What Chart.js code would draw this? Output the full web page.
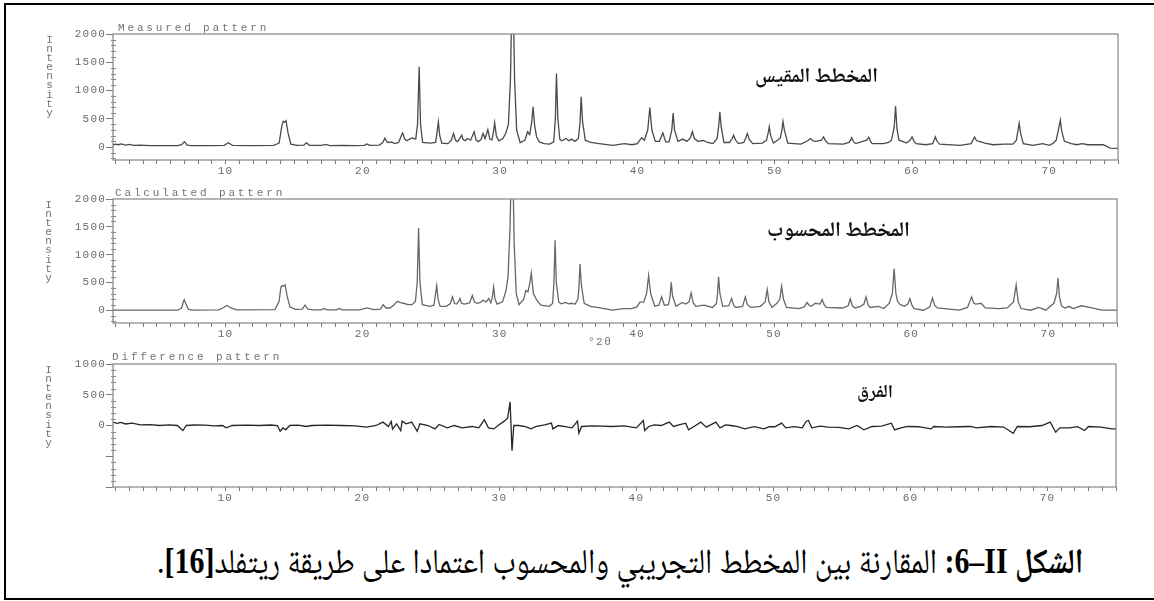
<!DOCTYPE html>
<html lang="ar">
<head>
<meta charset="utf-8">
<title>Rietveld comparison</title>
<script src="https://cdn.jsdelivr.net/npm/chart.js@4.4.1/dist/chart.umd.min.js"></script>
<style>
  html, body { margin: 0; padding: 0; background: #fff; }
  body { width: 1154px; height: 601px; position: relative; overflow: hidden; }
  .frame { position: absolute; left: 4px; top: 3px; width: 1200px; height: 593px;
           border-left: 2px solid #000; border-top: 2px solid #000; border-bottom: 2px solid #000; }
  canvas.panel { position: absolute; left: 0; }
  .ptitle { position: absolute; font-family: "Liberation Mono", "DejaVu Sans Mono", monospace;
            font-size: 11px; line-height: 11px; letter-spacing: 2.85px; color: #737373; white-space: nowrap; }
  .ylab { position: absolute; width: 9px; font-family: "Liberation Mono", "DejaVu Sans Mono", monospace;
          font-size: 11px; line-height: 9.1px; word-break: break-all; color: #737373; text-align: center; }
  .xunit { position: absolute; font-family: "Liberation Mono", "DejaVu Sans Mono", monospace;
           font-size: 11px; line-height: 11px; letter-spacing: 1.5px; color: #737373; white-space: nowrap; }
  .tag { position: absolute; font-family: "Noto Naskh Arabic", "Noto Sans Arabic", "DejaVu Sans", sans-serif; font-weight: bold;
         font-size: 15px; line-height: 1; color: #111; white-space: nowrap; direction: rtl; }
  .caption { position: absolute; font-family: "Liberation Serif", "Noto Naskh Arabic", "DejaVu Serif", serif; font-size: 35px;
             line-height: 1.2; color: #000; white-space: nowrap; direction: rtl; transform-origin: 100% 50%; }
</style>
</head>
<body>
<div class="frame"></div>

<canvas id="measured" class="panel"></canvas>
<canvas id="calculated" class="panel"></canvas>
<canvas id="difference" class="panel"></canvas>

<div class="ptitle" style="left:118px; top:23px;">Measured pattern</div>
<div class="ptitle" style="left:115px; top:188px;">Calculated pattern</div>
<div class="ptitle" style="left:112px; top:352px;">Difference pattern</div>

<div class="ylab" style="left:45px; top:36px;">Intensity</div>
<div class="ylab" style="left:44px; top:201px;">Intensity</div>
<div class="ylab" style="left:44px; top:366px;">Intensity</div>

<div class="xunit" style="left:588px; top:337px;">°2θ</div>

<div class="tag" id="tag1">المخطط المقيس</div>
<div class="tag" id="tag2">المخطط المحسوب</div>
<div class="tag" id="tag3">الفرق</div>

<div class="caption" id="caption"><b>الشكل <bdo dir="rtl">II–6</bdo>:</b> المقارنة بين المخطط التجريبي والمحسوب اعتمادا على طريقة ريتفلد<b>[16]</b>.</div>

<script>
// ---- measured XRD pattern (2θ in degrees, intensity in counts) ----
const measuredAngle = [
  1.8, 2.0, 2.2, 2.4, 2.7, 3.0, 3.3, 3.8, 4.5, 5.5, 6.5, 6.8, 7.0, 7.2, 7.5, 9.0, 9.9, 10.2, 10.5,
  12.0, 13.5, 13.9, 14.1, 14.2, 14.3, 14.4, 14.55, 14.75, 15.2, 15.7, 15.9, 16.1, 17.0, 17.3, 17.6,
  18.5, 19.5, 20.1, 20.3, 20.5, 21.2, 21.45, 21.6, 21.75, 21.9, 22.1, 22.3, 22.6, 22.8, 22.9, 23.05,
  23.2, 23.4, 23.6, 23.85, 23.98, 24.1, 24.2, 24.35, 24.9, 25.3, 25.42, 25.5, 25.6, 25.75, 26.2,
  26.45, 26.6, 26.75, 26.9, 27.05, 27.2, 27.3, 27.45, 27.6, 27.85, 28.1, 28.25, 28.4, 28.6, 28.75,
  28.9, 29.1, 29.25, 29.4, 29.5, 29.6, 29.72, 29.9, 30.2, 30.4, 30.6, 30.75, 30.9, 31.05, 31.2,
  31.45, 31.8, 32.0, 32.15, 32.3, 32.4, 32.5, 32.65, 32.85, 33.2, 33.6, 33.9, 34.02, 34.1, 34.2,
  34.35, 34.5, 34.8, 35.0, 35.2, 35.45, 35.7, 35.82, 35.9, 36.0, 36.2, 36.6, 37.2, 38.2, 39.05,
  39.6, 40.0, 40.3, 40.5, 40.75, 40.9, 41.05, 41.3, 41.6, 41.85, 42.05, 42.3, 42.5, 42.6, 42.7,
  42.95, 43.3, 43.6, 43.85, 44.0, 44.15, 44.4, 44.8, 45.1, 45.5, 45.8, 45.93, 46.0, 46.1, 46.3,
  46.7, 46.9, 47.0, 47.15, 47.35, 47.75, 47.9, 48.0, 48.15, 48.4, 49.1, 49.4, 49.52, 49.6, 49.7,
  49.9, 50.2, 50.4, 50.52, 50.6, 50.7, 50.95, 51.9, 52.4, 52.6, 52.8, 53.0, 53.4, 53.55, 53.7,
  53.9, 55.0, 55.4, 55.55, 55.6, 55.75, 55.9, 56.4, 56.7, 56.85, 57.0, 57.1, 57.9, 58.3, 58.5,
  58.7, 58.8, 58.9, 59.05, 59.3, 59.6, 59.85, 60.0, 60.15, 60.3, 61.0, 61.5, 61.62, 61.7, 61.8,
  62.0, 63.5, 64.3, 64.45, 64.55, 64.7, 64.9, 65.3, 65.9, 66.7, 67.35, 67.6, 67.72, 67.8, 67.9,
  68.1, 68.8, 69.5, 70.0, 70.3, 70.5, 70.68, 70.8, 70.9, 71.1, 71.6, 72.0, 72.4, 72.8, 73.2,
  73.9, 74.2, 74.4, 75.0
];
const measuredCounts = [
  35, 50, 40, 55, 35, 45, 30, 35, 25, 25, 25, 40, 95, 35, 25, 25, 30, 75, 30,
  25, 30, 70, 380, 455, 440, 465, 250, 50, 30, 35, 75, 30, 30, 45, 25,
  30, 25, 30, 55, 30, 35, 80, 155, 90, 80, 90, 60, 80, 200, 250, 140,
  110, 140, 160, 140, 400, 1420, 400, 80, 70, 80, 300, 445, 200, 70, 60,
  120, 240, 120, 95, 150, 210, 130, 110, 150, 120, 270, 120, 95, 130, 240,
  150, 310, 140, 125, 250, 430, 200, 110, 150, 240, 400, 1200, 3300, 1200, 300,
  80, 120, 270, 220, 450, 710, 400, 180, 90, 60, 50, 90, 500, 1300, 500,
  130, 110, 150, 110, 140, 100, 150, 450, 890, 450, 120, 80, 60, 30, 60,
  40, 60, 165, 120, 300, 700, 300, 100, 100, 250, 90, 90, 300, 600, 300,
  100, 140, 100, 160, 270, 150, 100, 115, 80, 60, 150, 400, 625, 350, 80,
  80, 150, 210, 120, 60, 80, 170, 240, 130, 60, 70, 120, 250, 360, 200,
  70, 120, 160, 300, 450, 300, 70, 50, 110, 150, 110, 100, 120, 180, 110,
  60, 50, 80, 130, 165, 90, 60, 100, 120, 170, 90, 60, 60, 80, 120,
  350, 725, 320, 120, 100, 70, 120, 180, 100, 60, 40, 60, 130, 180, 110,
  50, 30, 60, 130, 180, 110, 100, 70, 40, 50, 50, 120, 300, 420, 250,
  60, 30, 60, 30, 70, 120, 330, 475, 280, 100, 60, 40, 60, 40, 40,
  40, 10, -20, -25
];

// ---- calculated (Rietveld model) pattern ----
const calculatedAngle = [
  1.8, 6.5, 6.8, 6.95, 7.0, 7.1, 7.3, 7.6, 9.5, 9.8, 10.1, 10.4, 10.8, 13.6, 13.9, 14.05, 14.15,
  14.25, 14.35, 14.5, 14.7, 15.1, 15.6, 15.8, 16.0, 16.4, 17.0, 17.2, 17.4, 18.1, 18.3, 18.5, 19.8,
  20.3, 20.8, 21.3, 21.5, 21.7, 22.0, 22.3, 22.45, 22.55, 22.8, 23.0, 23.3, 23.6, 23.85, 23.98,
  24.08, 24.18, 24.35, 24.9, 25.2, 25.32, 25.4, 25.5, 25.65, 26.1, 26.4, 26.55, 26.7, 26.85, 27.0,
  27.1, 27.2, 27.4, 27.8, 28.0, 28.15, 28.35, 28.6, 28.75, 29.0, 29.2, 29.35, 29.45, 29.55, 29.65,
  29.8, 30.2, 30.45, 30.6, 30.75, 30.9, 31.05, 31.2, 31.4, 31.75, 31.9, 32.05, 32.2, 32.3, 32.45,
  32.7, 33.0, 33.6, 33.85, 33.95, 34.03, 34.12, 34.3, 34.5, 34.8, 35.0, 35.2, 35.5, 35.7, 35.78,
  35.85, 35.95, 36.15, 36.6, 37.1, 38.2, 39.0, 39.6, 40.0, 40.2, 40.5, 40.7, 40.85, 41.0, 41.3,
  41.6, 41.8, 42.0, 42.3, 42.42, 42.5, 42.6, 42.85, 43.3, 43.55, 43.8, 43.95, 44.1, 44.3, 44.9,
  45.5, 45.8, 45.88, 45.95, 46.05, 46.25, 46.7, 46.9, 47.05, 47.2, 47.7, 47.9, 48.05, 48.3, 49.0,
  49.35, 49.5, 49.62, 49.85, 50.2, 50.42, 50.55, 50.68, 50.9, 51.8, 52.2, 52.4, 52.55, 52.7, 53.0,
  53.35, 53.5, 53.65, 53.8, 55.0, 55.4, 55.55, 55.7, 55.9, 56.3, 56.55, 56.7, 56.85, 57.0, 57.6,
  58.0, 58.4, 58.62, 58.75, 58.88, 59.0, 59.2, 59.5, 59.75, 59.9, 60.05, 60.2, 60.9, 61.35, 61.55,
  61.7, 61.9, 63.5, 64.1, 64.4, 64.55, 64.7, 65.1, 65.4, 66.4, 67.0, 67.45, 67.65, 67.8, 68.0,
  68.7, 69.3, 69.8, 70.4, 70.6, 70.7, 70.8, 70.95, 71.2, 71.5, 71.8, 72.4, 73.0, 73.9, 75.0
];
const calculatedCounts = [
  0, 0, 40, 170, 190, 120, 15, 0, 5, 40, 85, 40, 5, 10, 150, 420, 445,
  430, 455, 250, 60, 15, 20, 90, 20, 5, 5, 30, 5, 5, 30, 5, 5,
  40, 10, 20, 100, 40, 40, 100, 140, 160, 130, 125, 100, 100, 160, 500,
  1480, 500, 100, 70, 90, 300, 440, 200, 70, 70, 120, 240, 120, 110, 160,
  210, 130, 110, 130, 265, 150, 125, 140, 180, 150, 210, 130, 220, 415, 200,
  110, 150, 350, 600, 1500, 3300, 1200, 300, 100, 200, 355, 330, 500, 665, 300,
  180, 90, 70, 120, 500, 1260, 500, 140, 115, 140, 115, 125, 110, 200, 450,
  830, 450, 125, 70, 50, 0, 30, 30, 60, 140, 150, 300, 620, 300, 70,
  90, 240, 90, 100, 250, 500, 250, 70, 140, 110, 150, 310, 130, 70, 90,
  50, 120, 300, 600, 300, 70, 80, 210, 90, 50, 70, 240, 100, 50, 70,
  150, 370, 150, 50, 125, 200, 430, 200, 50, 30, 60, 140, 90, 70, 125,
  110, 195, 100, 50, 40, 80, 205, 80, 40, 70, 110, 240, 100, 50, 70,
  30, 125, 300, 750, 300, 160, 100, 70, 110, 205, 90, 30, 0, 60, 220,
  90, 40, 0, 50, 240, 130, 110, 125, 40, 30, 40, 150, 455, 150, 30,
  0, 50, 0, 125, 300, 580, 250, 80, 40, 70, 30, 80, 50, 0, 0
];

// ---- difference curve (measured minus calculated) ----
const differenceAngle = [
  1.8, 2.1, 2.4, 2.7, 3.2, 3.8, 4.5, 5.2, 5.9, 6.5, 6.9, 7.15, 7.8, 8.5, 9.2, 9.8, 10.05, 10.5,
  11.5, 12.5, 13.3, 13.8, 14.0, 14.2, 14.4, 14.7, 15.3, 15.9, 16.3, 17.4, 18.5, 19.5, 20.3, 21.0,
  21.5, 21.9, 22.1, 22.2, 22.5, 22.8, 22.9, 23.2, 23.6, 24.0, 24.2, 24.8, 25.3, 25.6, 26.2, 26.7,
  27.3, 28.0, 28.5, 28.9, 29.2, 29.6, 29.9, 30.35, 30.6, 30.78, 30.86, 30.92, 31.05, 31.4, 31.9,
  32.3, 32.7, 33.3, 33.8, 33.9, 34.3, 34.8, 35.3, 35.7, 35.8, 36.0, 36.8, 37.5, 38.2, 39.1, 40.0,
  40.5, 40.6, 40.9, 41.3, 41.8, 42.4, 42.7, 43.1, 43.6, 43.8, 44.2, 44.7, 45.1, 45.8, 46.1, 46.5,
  46.9, 47.4, 47.9, 48.6, 49.3, 49.7, 50.1, 50.6, 50.9, 51.5, 52.1, 52.4, 52.55, 52.8, 53.4, 54.0,
  54.8, 55.5, 56.1, 56.6, 57.2, 57.9, 58.6, 58.85, 59.3, 59.8, 60.6, 61.5, 61.7, 62.6, 63.5, 64.4,
  64.8, 65.9, 66.8, 67.5, 67.8, 68.7, 69.6, 70.2, 70.6, 70.9, 71.6, 72.2, 72.7, 73.0, 73.9, 74.7,
  75.0
];
const differenceCounts = [
  55, 35, 50, 25, 40, 10, 15, 0, 10, 0, -82, 0, 8, 5, -5, 0, -38, 0,
  5, 0, 8, 0, -93, -40, -70, 0, 5, -16, 0, 5, 0, -5, -27, 0,
  55, -16, 65, -55, 27, -82, 71, 27, 55, -93, 27, 0, -55, 16, -38, 0,
  -38, -16, -38, 93, -38, -55, 0, 71, 120, 383, -60, -410, 0, 0, -20,
  -55, -16, 10, 38, -55, 0, -20, -38, 71, -126, -16, -5, -10, -16, -5, -38,
  82, -82, -16, 10, 0, 55, -16, 10, 38, -71, -16, 55, -27, 55, -38, 10,
  0, -20, -55, -20, -55, -20, -20, 38, -38, -20, -38, 70, 82, -38, -10, -27,
  -30, -55, 0, -71, -16, -10, 38, -71, -38, -16, -20, -55, -16, -25, -20, -16,
  -38, -16, -25, -126, -16, -20, 0, 55, -110, -38, -38, -20, -82, -16, -27, -55,
  -55
];

// ---- axis ticks ----
const xTickLabels = [10, 20, 30, 40, 50, 60, 70];
const yTickLabelsFull = [0, 500, 1000, 1500, 2000];
const yTickLabelsDiff = [0, 500, 1000];

// plotting range of 2θ shared by the three panels
const X_MIN = 1.8, X_MAX = 75;

const panels = [
  { canvas: 'measured',   angle: measuredAngle,   counts: measuredCounts,   color: '#4a4a4a',
    yMin: -230, yMax: 2000, labels: yTickLabelsFull, area: { top: 34,  bottom: 160, left: 113, right: 1118 } },
  { canvas: 'calculated', angle: calculatedAngle, counts: calculatedCounts, color: '#676767',
    yMin: -230, yMax: 2000, labels: yTickLabelsFull, area: { top: 199, bottom: 323, left: 113, right: 1117 } },
  { canvas: 'difference', angle: differenceAngle, counts: differenceCounts, color: '#262626',
    yMin: -1000, yMax: 1000, labels: yTickLabelsDiff, area: { top: 364, bottom: 487, left: 113, right: 1116 } }
];

const PAD_TOP = 14, X_AXIS_H = 20, PAD_BOTTOM = 12, Y_AXIS_W = 70, PAGE_W = 1154;
const AXIS_GRAY = '#7a7a7a';
const TICK_FONT = { family: '"Liberation Mono", "DejaVu Sans Mono", monospace', size: 11 };

// frame around the plotting area, short minor ticks on the intensity axis
const framePlugin = {
  id: 'plotFrame',
  beforeDraw(chart) { chart.ctx.letterSpacing = '1.2px'; },
  afterDraw(chart) {
    const { ctx, chartArea: a } = chart;
    const y = chart.scales.y;
    ctx.save();
    ctx.strokeStyle = '#858585';
    ctx.lineWidth = 1.2;
    ctx.strokeRect(a.left, a.top, a.right - a.left, a.bottom - a.top);
    ctx.lineWidth = 1;
    ctx.strokeStyle = '#8a8a8a';
    ctx.beginPath();
    y.ticks.forEach(t => {
      if (t.value % 500 !== 0 && t.value % 100 === 0) {
        const py = Math.round(y.getPixelForValue(t.value)) + 0.5;
        ctx.moveTo(a.left - 2, py);
        ctx.lineTo(a.left + 3, py);
      }
    });
    ctx.stroke();
    ctx.restore();
  }
};

function buildPanel(p) {
  const cv = document.getElementById(p.canvas);
  const top = p.area.top - PAD_TOP;
  const height = p.area.bottom - p.area.top + PAD_TOP + X_AXIS_H + PAD_BOTTOM;
  cv.width = PAGE_W; cv.height = height;
  cv.style.width = PAGE_W + 'px'; cv.style.height = height + 'px';
  cv.style.top = top + 'px';

  const points = p.angle.map((x, i) => ({ x, y: p.counts[i] }));
  const labelSet = new Set(p.labels);
  const xLabelSet = new Set(xTickLabels);

  return new Chart(cv, {
    type: 'line',
    data: { datasets: [{
      data: points, borderColor: p.color, borderWidth: 1.3, pointRadius: 0,
      tension: 0, fill: false
    }] },
    options: {
      responsive: false, animation: false, devicePixelRatio: 1,
      layout: { padding: { top: PAD_TOP, bottom: PAD_BOTTOM, left: p.area.left - Y_AXIS_W, right: PAGE_W - p.area.right } },
      plugins: { legend: { display: false }, tooltip: { enabled: false }, title: { display: false } },
      scales: {
        x: {
          type: 'linear', min: X_MIN, max: X_MAX,
          afterBuildTicks: s => {
            const t = [];
            for (let v = Math.ceil(X_MIN); v <= X_MAX; v++) t.push({ value: v });
            s.ticks = t;
          },
          afterFit: s => { s.height = X_AXIS_H; },
          border: { display: false },
          grid: { drawOnChartArea: false, drawTicks: true, tickLength: 4, tickColor: AXIS_GRAY, tickWidth: 1 },
          ticks: { autoSkip: false, maxRotation: 0, padding: 0, color: '#6a6a6a', font: TICK_FONT,
                   callback: v => xLabelSet.has(v) ? String(v) : '' }
        },
        y: {
          type: 'linear', min: p.yMin, max: p.yMax,
          afterBuildTicks: s => {
            const t = [];
            for (let v = Math.ceil(p.yMin / 100) * 100; v <= p.yMax; v += 100) t.push({ value: v });
            s.ticks = t;
          },
          afterFit: s => { s.width = Y_AXIS_W; },
          border: { display: false },
          grid: { drawOnChartArea: false, drawTicks: true, tickLength: 7,
                  tickColor: c => (c.tick && c.tick.value % 500 === 0) ? AXIS_GRAY : 'rgba(0,0,0,0)',
                  tickWidth: c => (c.tick && c.tick.value % 500 === 0) ? 1 : 0 },
          ticks: { autoSkip: false, padding: 0, color: '#6a6a6a', font: TICK_FONT,
                   callback: v => labelSet.has(v) ? String(v) : '' }
        }
      }
    },
    plugins: [framePlugin]
  });
}

panels.forEach(buildPanel);

// size a text block to a given width and place it by its right edge and vertical centre
function placeText(id, width, right, centerY) {
  const el = document.getElementById(id);
  const w = el.getBoundingClientRect().width;
  const fs = parseFloat(getComputedStyle(el).fontSize);
  el.style.fontSize = (fs * width / w).toFixed(2) + 'px';
  const h = el.getBoundingClientRect().height;
  el.style.left = (right - el.getBoundingClientRect().width) + 'px';
  el.style.top = (centerY - h / 2) + 'px';
}
// keep the caption's type size and compress it horizontally to the line length
function placeCaption(id, width, right, centerY) {
  const el = document.getElementById(id);
  const w = el.offsetWidth, h = el.offsetHeight;
  el.style.left = (right - w) + 'px';
  el.style.top = (centerY - h / 2) + 'px';
  el.style.transform = 'scaleX(' + Math.min(1, width / w).toFixed(4) + ')';
}
placeText('tag1', 123, 878, 78);
placeText('tag2', 143, 910, 232);
placeText('tag3', 36, 893, 393);
placeCaption('caption', 926, 1083, 562);
</script>
</body>
</html>
